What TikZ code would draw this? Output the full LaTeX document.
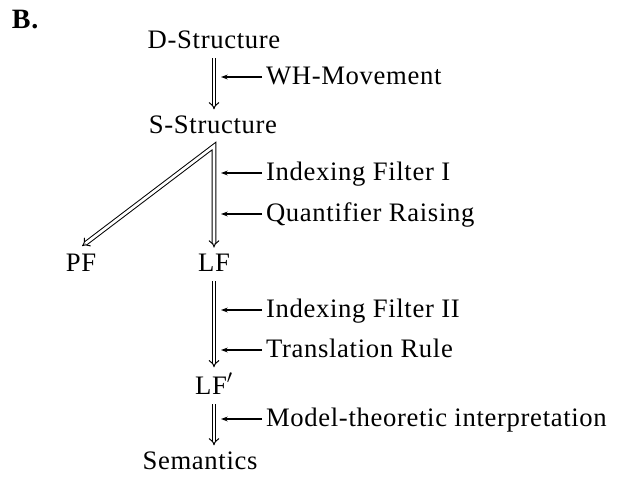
\documentclass[tikz,border=0pt]{standalone}
\usepackage{fontspec}
\setmainfont{Liberation Serif}[LetterSpace=2.5]
\usetikzlibrary{arrows.meta}
\begin{document}
\begin{tikzpicture}[x=0.75pt,y=-0.75pt,
  txt/.style={inner sep=0pt, outer sep=0pt, font=\fontsize{20}{24}\selectfont, anchor=base},
  lbl/.style={txt, anchor=base west},
  dbl/.style={double, double distance=2pt, line width=0.75pt, line join=miter, -{Implies}, shorten <=7.5pt, shorten >=4.5pt},
  small/.style={line width=0.8pt, -{Stealth[length=5pt,width=3.6pt]}, shorten <=3pt}]
\useasboundingbox (0,0) rectangle (621,493);
% main nodes
\node[txt, anchor=base west, font=\fontsize{21}{24}\selectfont\bfseries] (B) at (12,28) {B.};
\node[txt] (D) at (214,48) {D-Structure};
\node[txt] (S) at (213,133) {S-Structure};
\node[txt] (PF) at (81,271) {PF};
\node[txt] (LF) at (214,271) {LF};
\node[txt] (LF2) at (214,394) {LF$'$};
\node[txt] (Sem) at (200,469) {Semantics};
\coordinate (ap) at (214,146);
% double arrows
\draw[dbl] (D.south -| LF) -- (S.north -| LF);
\draw[dbl, {Implies}-{Implies}, shorten <=1pt, shorten >=4.5pt] ([yshift=5pt]PF.north) -- (ap) -- (LF.north);
\draw[dbl] (LF) -- (LF2);
\draw[dbl] (LF2.south) -- (LF2.south |- Sem.north);
% labels
\node[lbl] (wh) at (266,84) {WH-Movement};
\node[lbl] (if1) at (266,180) {Indexing Filter I};
\node[lbl] (qr) at (266,221) {Quantifier Raising};
\node[lbl] (if2) at (266,317) {Indexing Filter II};
\node[lbl] (tr) at (266,357) {Translation Rule};
\node[lbl] (mt) at (266,426) {Model-theoretic interpretation};
\coordinate (c1) at (221,77);
\coordinate (c2) at (221,173);
\coordinate (c3) at (221,214);
\coordinate (c4) at (221,310);
\coordinate (c5) at (221,350);
\coordinate (c6) at (221,419);
\draw[small] (wh.west |- c1) -- (c1);
\draw[small] (if1.west |- c2) -- (c2);
\draw[small] (qr.west |- c3) -- (c3);
\draw[small] (if2.west |- c4) -- (c4);
\draw[small] (tr.west |- c5) -- (c5);
\draw[small] (mt.west |- c6) -- (c6);
\end{tikzpicture}
\end{document}
